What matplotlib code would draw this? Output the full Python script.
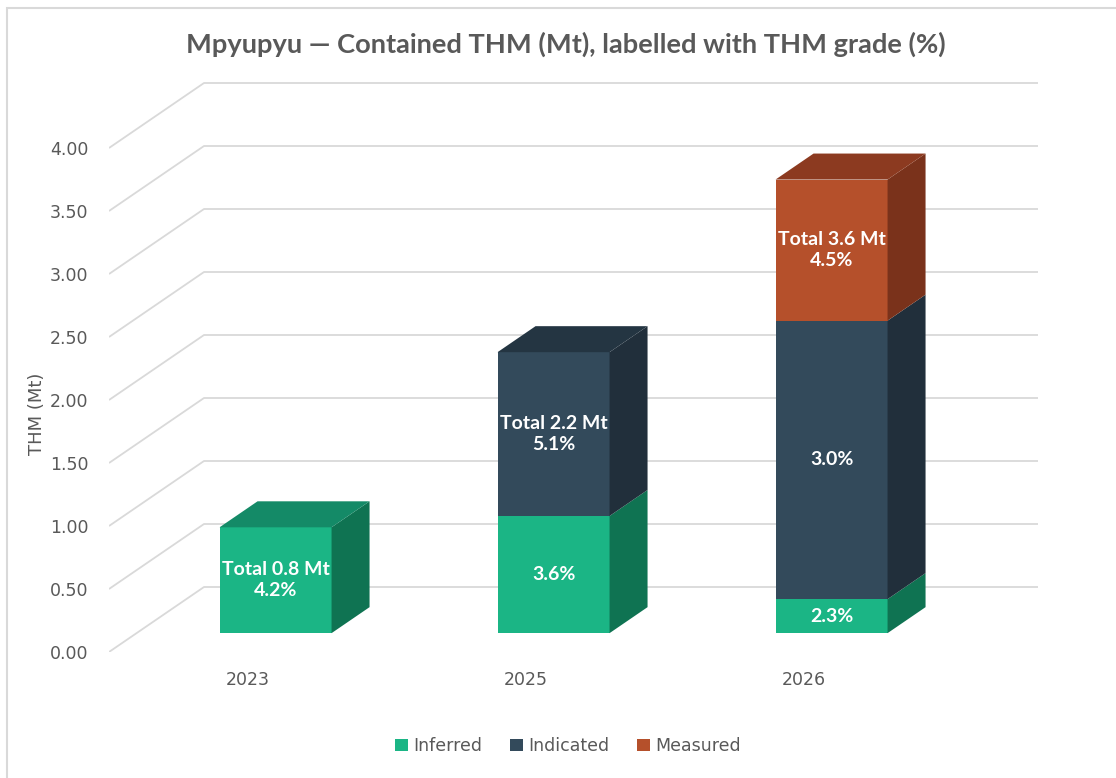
import matplotlib
matplotlib.use("Agg")
import matplotlib.pyplot as plt
from matplotlib.patches import Polygon, Rectangle, Patch

# ---------------- data ----------------
categories = ["2023", "2025", "2026"]
series_names = ["Inferred", "Indicated", "Measured"]
inferred = [0.84, 0.93, 0.27]
indicated = [0.00, 1.30, 2.21]
measured = [0.00, 0.00, 1.12]
inferred_grade = ["4.2%", "3.6%", "2.3%"]
indicated_grade = ["", "5.1%", "3.0%"]
measured_grade = ["", "", "4.5%"]
total_labels = ["Total 0.8 Mt", "Total 2.2 Mt", "Total 3.6 Mt"]
y_ticks = [0.0, 0.5, 1.0, 1.5, 2.0, 2.5, 3.0, 3.5, 4.0]

# ---------------- style ----------------
front_cols = ["#1BB585", "#334A5B", "#B5502B"]
top_cols = ["#148A67", "#243542", "#8C3A20"]
side_cols = ["#0F7352", "#212F3B", "#7A321B"]
grid_col = "#D9D9D9"
txt_col = "#595959"

W, H = 1116, 778
fig = plt.figure(figsize=(W / 100, H / 100), dpi=100)
fig.patch.set_facecolor("white")

# axes: data coords = front (label) plane of the pseudo-3D box
px_left, px_bottom = 109, 652
xlim = (-0.5, 2.85)
ylim = (0.0, 4.55)
px_per_x = 278.0
px_per_y = 126.0
ax_w = (xlim[1] - xlim[0]) * px_per_x
ax_h = (ylim[1] - ylim[0]) * px_per_y
ax = fig.add_axes([px_left / W, (H - px_bottom) / H, ax_w / W, ax_h / H])
ax.set_xlim(*xlim)
ax.set_ylim(*ylim)
ax.set_facecolor("none")
for s in ax.spines.values():
    s.set_visible(False)

# depth projection (one full depth unit of the floor)
kx = 95.0 / px_per_x
ky = 65.0 / px_per_y
z0 = 0.29   # bar front depth
dz = 0.40   # bar depth
bar_w = 112.0 / px_per_x

# gridlines: front diagonal + back wall
floor_x0, floor_x1 = -0.5, 2.5
for v in y_ticks:
    ax.plot([floor_x0, floor_x0 + kx, floor_x1 + kx], [v, v + ky, v + ky],
            color=grid_col, lw=1.3, zorder=1, solid_capstyle="butt")

# bars
series = [inferred, indicated, measured]
grades = [inferred_grade, indicated_grade, measured_grade]
lab_font = dict(family=["Lato", "DejaVu Sans"], weight="bold",
                size=14, color="white")
for i in range(len(categories)):
    bottom = 0.0
    top_idx = max(k for k in range(3) if series[k][i] > 0)
    for k in range(3):
        h = series[k][i]
        if h <= 0:
            continue
        xc = i + z0 * kx
        yb = bottom + z0 * ky
        ax.bar(xc, h, width=bar_w, bottom=yb, color=front_cols[k], zorder=3,
               linewidth=0)
        x1 = xc + bar_w / 2
        x0 = xc - bar_w / 2
        yt = yb + h
        side = Polygon([(x1, yb), (x1 + dz * kx, yb + dz * ky),
                        (x1 + dz * kx, yt + dz * ky), (x1, yt)],
                       closed=True, facecolor=side_cols[k], edgecolor="none", zorder=3)
        ax.add_patch(side)
        if k == top_idx:
            topf = Polygon([(x0, yt), (x1, yt), (x1 + dz * kx, yt + dz * ky),
                            (x0 + dz * kx, yt + dz * ky)],
                           closed=True, facecolor=top_cols[k], edgecolor="none", zorder=3)
            ax.add_patch(topf)
            label = total_labels[i] + "\n" + grades[k][i]
        else:
            label = grades[k][i]
        ax.text(xc, yb + h / 2, label, ha="center", va="center",
                linespacing=1.3, zorder=5, **lab_font)
        bottom += h

# ticks
ax.set_yticks(y_ticks)
ax.set_yticklabels([f"{v:.2f}" for v in y_ticks])
ax.set_xticks(range(len(categories)))
ax.set_xticklabels(categories)
ax.tick_params(axis="y", length=0, pad=15, labelsize=12.5, labelcolor=txt_col)
ax.tick_params(axis="x", length=0, pad=14, labelsize=12.5, labelcolor=txt_col)

# axis title
fig.text(37 / W, 1 - 414 / H, "THM (Mt)", rotation=90, ha="center", va="center",
         fontsize=13, color=txt_col)

# chart title
fig.text(566 / W, 1 - 53 / H,
         "Mpyupyu \u2014 Contained THM (Mt), labelled with THM grade (%)",
         ha="center", va="baseline", fontsize=19.6, fontweight="bold",
         family=["Lato", "DejaVu Sans"], color=txt_col)

# legend
handles = [Patch(facecolor=front_cols[k], edgecolor="none") for k in range(3)]
fig.legend(handles, series_names, loc="center", bbox_to_anchor=(568 / W, 1 - 746 / H),
           ncol=3, frameon=False, fontsize=12.5, labelcolor=txt_col,
           handlelength=0.75, handleheight=0.75, handletextpad=0.3,
           columnspacing=1.6)

# outer chart border (left and top visible)
fig.patches.append(Rectangle((7 / W, -0.1), 2.0, 1.1 - 8 / H, transform=fig.transFigure,
                             fill=False, edgecolor="#D9D9D9", lw=1.5))

fig.savefig("out.png", dpi=100, facecolor="white")
